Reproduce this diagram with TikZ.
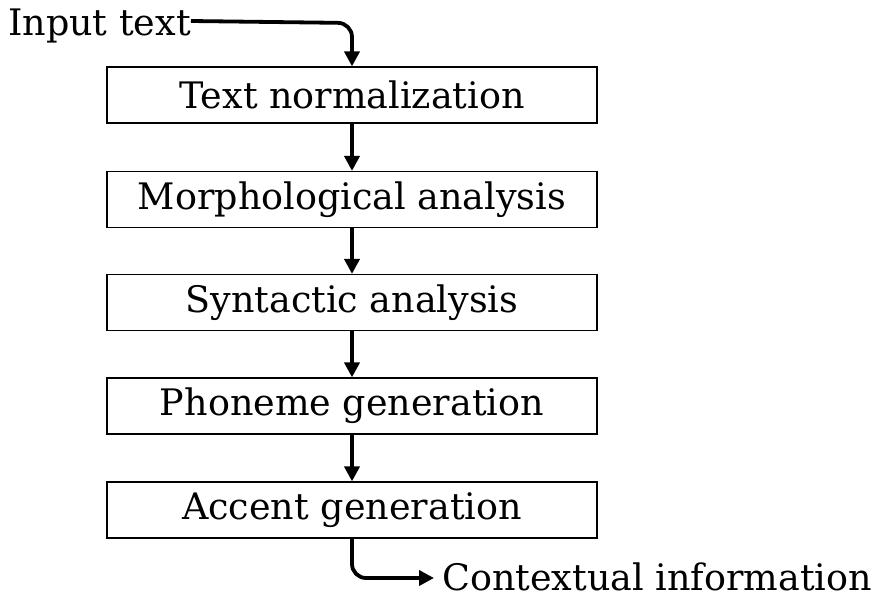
\documentclass[tikz,border=0pt]{standalone}
\usepackage{fontspec}
\setmainfont{DejaVu Serif}
\usetikzlibrary{arrows.meta}
\begin{document}
\begin{tikzpicture}[x=1pt,y=-1pt,
  stage/.style={draw, line width=1.2pt, minimum width=490pt, minimum height=56pt,
    inner sep=0pt, font=\fontsize{36.5}{40}\selectfont},
  label/.style={inner sep=0pt, font=\fontsize{36.5}{40}\selectfont},
  flow/.style={line width=3.8pt, -{Triangle[length=15pt,width=15pt]}}]
  \useasboundingbox (0,0) rectangle (879,600);
  \node[stage] (b1) at (352,95) {Text normalization};
  \node[stage] (b2) at (352,199.5) {Morphological analysis};
  \node[stage] (b3) at (352,302.5) {Syntactic analysis};
  \node[stage] (b4) at (352,406) {Phoneme generation};
  \node[stage] (b5) at (352,510) {Accent generation};
  \node[label, anchor=base west] (in) at (8,35) {Input text};
  \node[label, anchor=base west] (out) at (442,590) {Contextual information};
  \coordinate (c0) at (in.east |- 0,21);
  \coordinate (c1) at (352,23);
  \coordinate (c2) at (352,578);
  \coordinate (c3) at (out.west |- 0,578);
  \draw[flow, rounded corners=14pt] (c0) -- (c1) -- (b1.north);
  \draw[flow] (b1) -- (b2);
  \draw[flow] (b2) -- (b3);
  \draw[flow] (b3) -- (b4);
  \draw[flow] (b4) -- (b5);
  \draw[flow, rounded corners=14pt, shorten >=8pt] (b5.south) -- (c2) -- (c3);
\end{tikzpicture}
\end{document}
